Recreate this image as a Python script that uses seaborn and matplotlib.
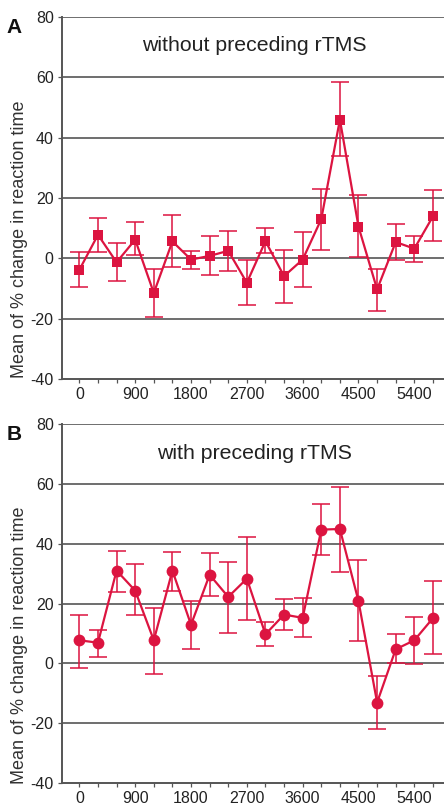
import numpy as np
import pandas as pd
import matplotlib
matplotlib.use("Agg")
import matplotlib.pyplot as plt
from matplotlib.ticker import MultipleLocator
import seaborn as sns

# Interval after stimulation (ms)
time_ms = [0, 300, 600, 900, 1200, 1500, 1800, 2100, 2400, 2700,
           3000, 3300, 3600, 3900, 4200, 4500, 4800, 5100, 5400, 5700]
x_tick_labels = ["0", "900", "1800", "2700", "3600", "4500", "5400"]

# Panel A: without preceding rTMS (mean, upper and lower error limits)
mean_a = [-3.8, 7.8, -1.3, 6.2, -11.5, 5.6, -0.4, 0.8, 2.5, -8.1,
          5.7, -5.9, -0.4, 13.0, 46.0, 10.5, -10.3, 5.4, 3.2, 13.9]
upper_a = [2.2, 13.4, 5.1, 11.9, -3.5, 14.5, 2.5, 7.3, 9.2, -0.6,
           10.2, 2.8, 8.8, 23.0, 58.4, 21.0, -3.5, 11.3, 7.3, 22.7]
lower_a = [-9.4, 2.0, -7.6, 1.1, -19.4, -2.9, -3.4, -5.5, -4.1, -15.4,
           1.8, -14.7, -9.4, 2.9, 33.8, 0.4, -17.3, -0.4, -1.1, 5.6]

# Panel B: with preceding rTMS
mean_b = [7.7, 6.9, 31.0, 24.3, 7.7, 31.0, 12.9, 29.6, 22.2, 28.3,
          9.7, 16.3, 15.2, 44.7, 44.9, 20.8, -13.1, 4.7, 7.7, 15.1]
upper_b = [16.3, 11.3, 37.4, 33.1, 18.6, 37.2, 20.8, 36.8, 34.0, 42.2,
           13.9, 21.6, 21.9, 53.2, 59.1, 34.4, -4.4, 9.9, 15.6, 27.4]
lower_b = [-1.6, 2.0, 23.9, 16.1, -3.7, 24.3, 4.8, 22.4, 10.0, 14.6,
           5.9, 11.0, 8.7, 36.2, 30.6, 7.6, -21.8, 0.0, -0.3, 3.1]

panels = [
    ("A", "without preceding rTMS", mean_a, upper_a, lower_a, "s", 6.5, 0.922),
    ("B", "with preceding rTMS", mean_b, upper_b, lower_b, "o", 8.5, 0.918),
]

sns.set_theme(style="white")
plt.rcParams["font.family"] = ["Liberation Sans", "DejaVu Sans"]

red = "#dc1440"
grid_col = "#555555"

fig = plt.figure(figsize=(4.44, 8.06), dpi=100)
ax_rects = [
    [62 / 444, 1 - 379 / 806, 1 - 62 / 444 + 0.01, (379 - 17) / 806],
    [62 / 444, 1 - 783 / 806, 1 - 62 / 444 + 0.01, (783 - 424) / 806],
]

for rect, (letter, title, mean, upper, lower, marker, msize, title_y) in zip(ax_rects, panels):
    ax = fig.add_axes(rect)
    df = pd.DataFrame({"time": time_ms, "mean": mean})
    err_low = np.array(mean) - np.array(lower)
    err_high = np.array(upper) - np.array(mean)

    ax.errorbar(time_ms, mean, yerr=[err_low, err_high], fmt="none",
                ecolor=red, elinewidth=1.1, capsize=6.5, capthick=1.1, zorder=3)
    sns.lineplot(data=df, x="time", y="mean", ax=ax, color=red, linewidth=1.6,
                 marker=marker, markersize=msize, markeredgewidth=0,
                 markerfacecolor=red, zorder=4)

    ax.set_xlim(-280, 5950)
    ax.set_ylim(-40, 80)
    for yv in [-20, 0, 20, 40, 60, 80]:
        ax.axhline(yv, color=grid_col, linewidth=1.2, zorder=1)

    ax.xaxis.set_minor_locator(MultipleLocator(300))
    ax.set_xticks([0, 900, 1800, 2700, 3600, 4500, 5400])
    ax.set_xticklabels(x_tick_labels)
    ax.set_yticks([-40, -20, 0, 20, 40, 60, 80])
    ax.set_yticklabels(["-40", "-20", "0", "20", "40", "60", "80"])
    ax.tick_params(axis="both", which="major", direction="out", length=3,
                   width=0.9, color=grid_col, labelsize=11.5, labelcolor="#222222",
                   pad=3)
    ax.tick_params(axis="x", which="minor", direction="out", length=3,
                   width=0.9, color=grid_col)
    ax.tick_params(axis="x", which="both", bottom=True)
    ax.tick_params(axis="y", which="both", left=True)

    for side in ["top", "right"]:
        ax.spines[side].set_visible(False)
    for side in ["left", "bottom"]:
        ax.spines[side].set_color(grid_col)
        ax.spines[side].set_linewidth(1.4)

    ax.set_xlabel("")
    ax.set_ylabel("Mean of % change in reaction time", fontsize=13,
                  color="#333333")
    ax.yaxis.set_label_coords(-0.087, 0.385)
    ax.text(0.497, title_y, title, transform=ax.transAxes, ha="center",
            va="center", fontsize=15.3, color="#222222")
    ax.text(-0.125, 0.97, letter, transform=ax.transAxes, ha="center",
            va="center", fontsize=15, fontweight="bold", color="#111111")

fig.savefig("out.png", dpi=100)
